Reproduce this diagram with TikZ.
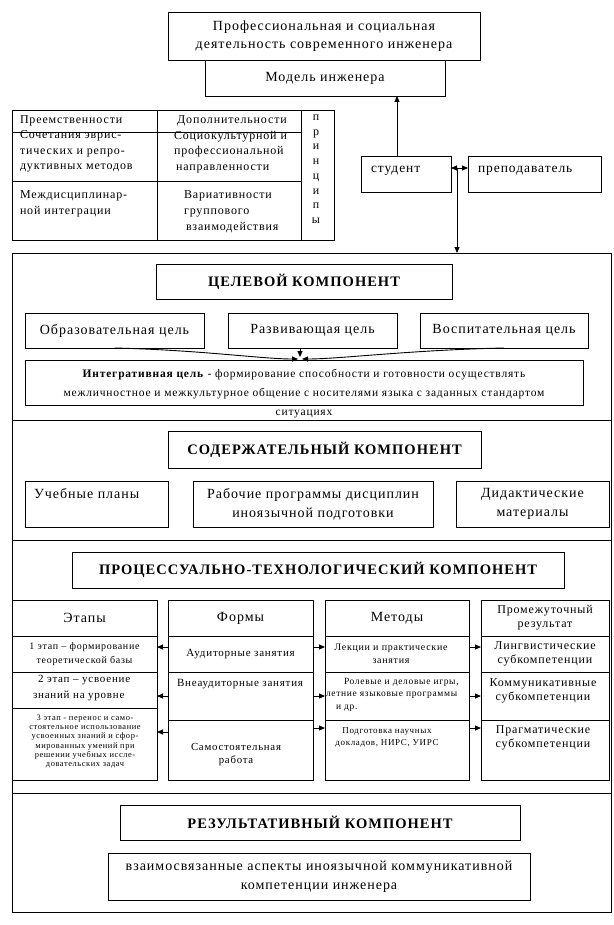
\documentclass[tikz,border=0pt]{standalone}
\usepackage{fontspec}
\setmainfont{Liberation Serif}[LetterSpace=7]
\usetikzlibrary{arrows.meta}
\newcommand\bx[7][]{\node[box, #1, minimum width={(#5-#3)*1pt}, minimum height={(#6-#4)*1pt}] (#2) at (#3,#4) {#7};}
\begin{document}
\begin{tikzpicture}[x=1pt,y=-1pt,
  every node/.style={inner sep=0pt, outer sep=0pt},
  box/.style={draw, line width=0.9pt, anchor=north west, align=center},
  ln/.style={line width=0.9pt},
  arr/.style={ln, -{Triangle[length=6pt,width=5pt]}},
  sarr/.style={ln, -{Triangle[length=6pt,width=5pt]}},
  fbig/.style={font=\fontsize{14}{19}\selectfont},
  fmid/.style={font=\fontsize{12}{15.5}\selectfont},
  ftitle/.style={font=\fontsize{14.5}{18}\selectfont\bfseries},
]
\useasboundingbox (0,0) rectangle (613,925);
% top
\bx[font=\fontsize{14}{18}\selectfont]{top}{168}{12}{480}{60}{Профессиональная и социальная\\деятельность современного инженера}
\bx[fbig]{model}{205}{60}{445}{96}{Модель инженера}
% table of principles
\node[box, minimum width=322pt, minimum height=130pt] (tbl) at (12,110) {};
\draw[ln] (12,132) -- (301,132);
\draw[ln] (12,181) -- (301,181);
\draw[ln] (157,110) -- (157,240);
\draw[ln] (301,110) -- (301,240);
\node[fmid, anchor=west] (p1) at (20,121) {Преемственности};
\node[fmid, anchor=center] (p2) at (232,121) {Дополнительности};
\node[fmid, anchor=north west, align=left] (p3) at (20,131) {Сочетания эврис-\\тических и репро-\\дуктивных методов};
\node[fmid, anchor=north west, align=left] (p4) at (174,131) {Социокультурной и\\профессиональной\\\hspace{2pt}направленности};
\node[anchor=north west, align=left, font=\fontsize{12}{16}\selectfont] (p5) at (20,191) {Междисциплинар-\\ной интеграции};
\node[anchor=north west, align=left, font=\fontsize{12}{16}\selectfont] (p6) at (184,191) {Вариативности\\группового\\\hspace{2pt}взаимодействия};
\node[anchor=north, align=center, font=\fontsize{12}{14.7}\selectfont] (pr) at (316,115) {п\\р\\и\\н\\ц\\и\\п\\ы};
% student / teacher
\node[box, minimum width=90pt, minimum height=36pt] (stud) at (361,156) {};
\node[font=\fontsize{13.5}{16}\selectfont, anchor=west] (studt) at (371,171) {студент};
\node[box, minimum width=133pt, minimum height=36pt] (teach) at (468,156) {};
\node[font=\fontsize{13.5}{16}\selectfont, anchor=west] (teacht) at (478,171) {преподаватель};
\draw[ln, {Triangle[length=6pt,width=5pt]}-{Triangle[length=6pt,width=5pt]}] ([yshift=6pt]stud.east) -- ([yshift=6pt]teach.west);
\coordinate (junc) at (457,168);
\draw[arr] ([xshift=-9pt]stud.north) -- ([xshift=-9pt]stud.north |- model.south);
% frame
\node[box, minimum width=599pt, minimum height=659pt] (frame) at (12,253) {};
\draw[arr] (junc) -- (junc |- frame.north);
\draw[ln] (12,420) -- (611,420);
\draw[ln] (12,540) -- (611,540);
\draw[ln] (12,793) -- (611,793);
% goal component
\bx[ftitle]{goalT}{156}{264}{452}{299}{ЦЕЛЕВОЙ КОМПОНЕНТ}
\bx[fbig]{edu}{25}{313}{204}{348}{Образовательная цель}
\bx[fbig]{dev}{228}{313}{397}{348}{Развивающая цель}
\bx[fbig]{vos}{420}{313}{588}{348}{Воспитательная цель}
\bx{integ}{25}{360}{583}{405}{}
\node[align=center, font=\fontsize{11.5}{19}\selectfont] (integt) at (304,394) {\textbf{Интегративная цель} - формирование способности и готовности осуществлять\\межличностное и межкультурное общение с носителями языка с заданных стандартом\\ситуациях};
\draw[arr] (edu.south) .. controls (200,350) and (262,359) .. (298,359);
\draw[arr] (vos.south) .. controls (410,350) and (340,359) .. (302,359);
\draw[arr] (dev.south -| 300,0) -- (300,357);
% content component
\bx[ftitle]{contT}{168}{431}{481}{468}{СОДЕРЖАТЕЛЬНЫЙ КОМПОНЕНТ}
\bx{plans}{25}{481}{168}{527}{}
\node[fbig, anchor=west] (planst) at (34,494) {Учебные планы};
\bx[fbig]{prog}{193}{481}{433}{527}{Рабочие программы дисциплин\\иноязычной подготовки}
\bx[fbig]{did}{456}{481}{609}{527}{Дидактические\\материалы}
% process component
\bx[ftitle]{procT}{72}{552}{564}{588}{ПРОЦЕССУАЛЬНО-ТЕХНОЛОГИЧЕСКИЙ КОМПОНЕНТ}
\bx[font=\fontsize{14}{16}\selectfont]{hE}{12}{600}{157}{636}{Этапы}
\bx[font=\fontsize{14}{16}\selectfont]{hF}{168}{600}{313}{636}{Формы}
\bx[font=\fontsize{14}{16}\selectfont]{hM}{325}{600}{469}{636}{Методы}
\bx[font=\fontsize{12}{14}\selectfont]{hR}{481}{600}{609}{636}{Промежуточный\\результат}
% stages
\bx[font=\fontsize{10}{14}\selectfont]{e1}{12}{636}{157}{672}{1 этап – формирование\\теоретической базы}
\bx{e2}{12}{672}{157}{708}{}
\node[anchor=north west, align=left, font=\fontsize{11}{16}\selectfont] (e2t) at (33,675) {\hspace{5pt}2 этап – усвоение\\знаний на уровне};
\bx{e3}{12}{708}{157}{780}{}
\node[anchor=north, align=center, font=\fontsize{8.4}{9.2}\selectfont] (e3t) at (85,715) {3 этап - перенос и само-\\стоятельное использование\\усвоенных знаний и сфор-\\мированных умений при\\решении учебных иссле-\\довательских задач};
% forms
\bx[font=\fontsize{11}{14}\selectfont]{f1}{168}{636}{313}{672}{Аудиторные занятия}
\bx{f2}{168}{672}{313}{720}{}
\node[font=\fontsize{11}{14}\selectfont, anchor=center] (f2t) at (240,684) {Внеаудиторные занятия};
\bx{f3}{168}{720}{313}{780}{}
\node[align=center, font=\fontsize{10.8}{13}\selectfont] (f3t) at (236,755) {Самостоятельная\\работа};
% methods
\bx{m1}{325}{636}{469}{672}{}
\node[align=center, font=\fontsize{10}{13.5}\selectfont] (m1t) at (391,654) {Лекции и практические\\занятия};
\bx{m2}{325}{672}{469}{720}{}
\node[anchor=north west, align=left, font=\fontsize{9.5}{12.5}\selectfont] (m2t) at (326,678) {\hspace{18pt}Ролевые и деловые игры,\\летние языковые программы\\\hspace{10pt}и др.};
\bx{m3}{325}{720}{469}{780}{}
\node[align=center, font=\fontsize{9}{12}\selectfont] (m3t) at (387,737) {Подготовка научных\\докладов, НИРС, УИРС};
% results
\bx[font=\fontsize{12}{14}\selectfont]{r1}{481}{636}{609}{672}{Лингвистические\\субкомпетенции}
\bx{r2}{481}{672}{609}{720}{}
\node[align=center, font=\fontsize{12}{14}\selectfont] (r2t) at (543,691) {Коммуникативные\\субкомпетенции};
\bx{r3}{481}{720}{609}{780}{}
\node[align=center, font=\fontsize{12}{14}\selectfont] (r3t) at (543,738) {Прагматические\\субкомпетенции};
% small arrows
\foreach \a/\b/\y in {f1/e1/647, f2/e2/696, f3/e3/732}
  \draw[sarr] (\a.west |- 0,\y) -- (\b.east |- 0,\y);
\foreach \a/\b/\y in {f1/m1/647, f2/m2/696, f3/m3/728, m1/r1/647, m2/r2/696, m3/r3/728}
  \draw[sarr] (\a.east |- 0,\y) -- (\b.west |- 0,\y);
% result component
\bx[ftitle]{resT}{120}{805}{520}{840}{РЕЗУЛЬТАТИВНЫЙ КОМПОНЕНТ}
\bx[font=\fontsize{14}{19}\selectfont]{resB}{108}{853}{530}{900}{взаимосвязанные аспекты иноязычной коммуникативной\\компетенции инженера}
\end{tikzpicture}
\end{document}
